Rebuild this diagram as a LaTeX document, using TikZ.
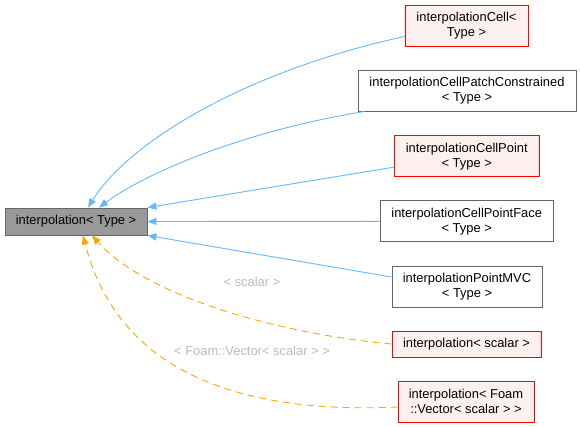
\documentclass[tikz,border=0pt]{standalone}
\usepackage{fontspec}
\setmainfont{Liberation Sans}
\usepackage{xcolor}
\usetikzlibrary{arrows.meta}
\definecolor{edgeblue}{HTML}{63B8FF}
\definecolor{edgeorange}{HTML}{FFA500}
\definecolor{boxgray}{HTML}{666666}
\definecolor{basefill}{HTML}{999999}
\definecolor{redfill}{HTML}{FFF0F0}
\definecolor{lblgray}{HTML}{BBBBBB}
\begin{document}
\begin{tikzpicture}[x=1pt,y=-1pt,
  font=\fontsize{12.9}{15}\selectfont,
  box/.style={shape=rectangle,draw=boxgray,fill=white,line width=0.9pt,align=center,inner sep=0pt,minimum height=41pt},
  redbox/.style={box,draw=red,fill=redfill},
  basebox/.style={box,fill=basefill,minimum height=27pt},
  inh/.style={draw=edgeblue,line width=0.9pt,-{Triangle[length=9pt,width=7pt]}},
  tmpl/.style={inh,draw=edgeorange,fill=none,dash pattern=on 7pt off 5pt},
  lbl/.style={text=lblgray}]
\useasboundingbox (0,0) rectangle (580,427);
\node[basebox,minimum width=142pt] (b) at (76,221.5) {interpolation< Type >};
\node[redbox,minimum width=123pt] (c1) at (466.5,25.5) {interpolationCell<\\Type >};
\node[box,minimum width=218pt] (c2) at (467,90.5) {interpolationCellPatchConstrained\\< Type >};
\node[redbox,minimum width=145pt] (c3) at (466.7,156.2) {interpolationCellPoint\\< Type >};
\node[box,minimum width=173pt] (c4) at (466.7,221.3) {interpolationCellPointFace\\< Type >};
\node[box,minimum width=150pt] (c5) at (467,286.5) {interpolationPointMVC\\< Type >};
\node[redbox,minimum width=149pt,minimum height=26pt] (c6) at (466.5,344) {interpolation< scalar >};
\node[redbox,minimum width=136pt] (c7) at (466,401.5) {interpolation< Foam\\::Vector< scalar > >};
\node[lbl] (l6) at (252,282) {< scalar >};
\node[lbl] (l7) at (252,351) {< Foam::Vector< scalar > >};
\draw[inh] ([yshift=-11pt]c1.west) .. controls (250,70) and (130,140) .. ([xshift=12pt]b.north);
\draw[inh] ([xshift=7pt]c2.south west) .. controls (250,130) and (150,170) .. ([xshift=23pt]b.north);
\draw[inh] ([yshift=-11pt]c3.west) -- (b.north east);
\draw[inh] (c4.west) -- (b.east);
\draw[inh] ([yshift=9.5pt]c5.west) -- (b.south east);
\draw[tmpl] (c6.west) .. controls (290,335) and (150,300) .. ([xshift=16pt]b.south);
\draw[tmpl] ([yshift=-5.5pt]c7.west) .. controls (220,415) and (115,360) .. ([xshift=7pt]b.south);
\end{tikzpicture}
\end{document}
